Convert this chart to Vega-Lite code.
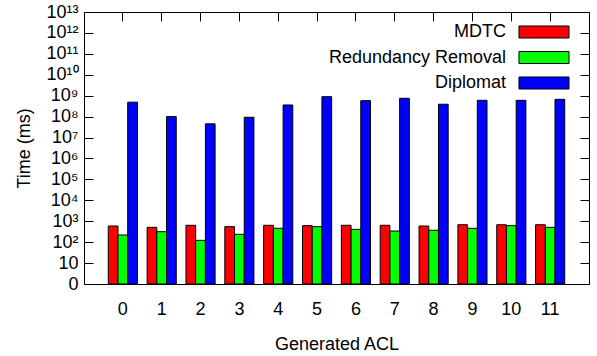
{
  "$schema": "https://vega.github.io/schema/vega-lite/v6.json",
  "width": 505,
  "height": 272,
  "autosize": {"type": "none"},
  "padding": {"left": 84, "top": 12, "right": 8, "bottom": 72},
  "background": "white",
  "config": {
    "font": "Liberation Sans",
    "view": {"stroke": "black", "strokeWidth": 1},
    "axis": {"grid": false, "domain": false, "tickColor": "black", "labelColor": "black", "titleColor": "black", "labelFont": "Liberation Sans", "titleFont": "Liberation Sans", "labelFontSize": 18, "titleFontSize": 18, "titleFontWeight": "normal"},
    "legend": {"labelFont": "Liberation Sans", "labelFontSize": 18, "labelColor": "black", "labelLimit": 400}
  },
  "data": {
    "values": [
      {"acl": "0", "method": "MDTC", "time": 590},
      {"acl": "1", "method": "MDTC", "time": 510},
      {"acl": "2", "method": "MDTC", "time": 640},
      {"acl": "3", "method": "MDTC", "time": 550},
      {"acl": "4", "method": "MDTC", "time": 640},
      {"acl": "5", "method": "MDTC", "time": 615},
      {"acl": "6", "method": "MDTC", "time": 640},
      {"acl": "7", "method": "MDTC", "time": 640},
      {"acl": "8", "method": "MDTC", "time": 590},
      {"acl": "9", "method": "MDTC", "time": 680},
      {"acl": "10", "method": "MDTC", "time": 680},
      {"acl": "11", "method": "MDTC", "time": 680},
      {"acl": "0", "method": "Redundancy Removal", "time": 220},
      {"acl": "1", "method": "Redundancy Removal", "time": 316},
      {"acl": "2", "method": "Redundancy Removal", "time": 122},
      {"acl": "3", "method": "Redundancy Removal", "time": 237},
      {"acl": "4", "method": "Redundancy Removal", "time": 460},
      {"acl": "5", "method": "Redundancy Removal", "time": 550},
      {"acl": "6", "method": "Redundancy Removal", "time": 410},
      {"acl": "7", "method": "Redundancy Removal", "time": 340},
      {"acl": "8", "method": "Redundancy Removal", "time": 370},
      {"acl": "9", "method": "Redundancy Removal", "time": 460},
      {"acl": "10", "method": "Redundancy Removal", "time": 615},
      {"acl": "11", "method": "Redundancy Removal", "time": 510},
      {"acl": "0", "method": "Diplomat", "time": 490000000},
      {"acl": "1", "method": "Diplomat", "time": 100000000},
      {"acl": "2", "method": "Diplomat", "time": 45000000},
      {"acl": "3", "method": "Diplomat", "time": 93000000},
      {"acl": "4", "method": "Diplomat", "time": 360000000},
      {"acl": "5", "method": "Diplomat", "time": 900000000},
      {"acl": "6", "method": "Diplomat", "time": 580000000},
      {"acl": "7", "method": "Diplomat", "time": 750000000},
      {"acl": "8", "method": "Diplomat", "time": 390000000},
      {"acl": "9", "method": "Diplomat", "time": 600000000},
      {"acl": "10", "method": "Diplomat", "time": 600000000},
      {"acl": "11", "method": "Diplomat", "time": 670000000}
    ]
  },
  "layer": [
    {
      "mark": {"type": "bar", "stroke": "black", "strokeWidth": 1},
      "encoding": {
        "x": {
          "field": "acl", "type": "ordinal", "sort": null,
          "scale": {"paddingInner": 0.25, "paddingOuter": 0.625},
          "axis": {"orient": "bottom", "labelAngle": 0, "ticks": false, "labelPadding": 16, "title": "Generated ACL", "titlePadding": 17}
        },
        "xOffset": {
          "field": "method", "type": "nominal",
          "sort": ["MDTC", "Redundancy Removal", "Diplomat"],
          "scale": {"paddingInner": 0, "paddingOuter": 0}
        },
        "y": {
          "field": "time", "type": "quantitative",
          "scale": {"type": "log", "domain": [1, 10000000000000], "nice": false},
          "axis": {
            "orient": "left",
            "values": [1, 10, 100, 1000, 10000, 100000, 1000000, 10000000, 100000000, 1000000000, 10000000000, 100000000000, 1000000000000, 10000000000000],
            "tickSize": -9,
            "labelPadding": 15,
            "labelExpr": "datum.value == 1 ? '0' : datum.value == 10 ? '10' : '10' + (round(log(datum.value)/LN10) >= 10 ? ['⁰','¹','²','³','⁴','⁵','⁶','⁷','⁸','⁹'][floor(round(log(datum.value)/LN10)/10)] : '') + ['⁰','¹','²','³','⁴','⁵','⁶','⁷','⁸','⁹'][round(log(datum.value)/LN10) % 10]",
            "title": "Time (ms)",
            "titlePadding": 12
          }
        },
        "y2": {"datum": 1},
        "color": {
          "field": "method", "type": "nominal",
          "scale": {"domain": ["MDTC", "Redundancy Removal", "Diplomat"], "range": ["#ff0000", "#00ff00", "#0000ff"]},
          "legend": {
            "orient": "none", "legendX": 451, "legendY": 11, "title": null, "padding": 0,
            "symbolType": "M-4.17,-1H4.17V1H-4.17Z", "symbolSize": 144,
            "symbolStrokeColor": "black", "symbolStrokeWidth": 1, "symbolOpacity": 1,
            "labelAlign": "right", "labelOffset": -47, "rowPadding": 7.5
          }
        }
      }
    },
    {
      "mark": {"type": "tick", "opacity": 0},
      "encoding": {
        "x": {
          "field": "acl", "type": "ordinal", "sort": null,
          "axis": {"orient": "top", "labels": false, "title": null, "tickSize": -9}
        },
        "y": {
          "field": "time", "type": "quantitative",
          "axis": {
            "orient": "right", "labels": false, "title": null, "tickSize": -9,
            "values": [1, 10, 100, 1000, 10000, 100000, 1000000, 10000000, 100000000, 1000000000, 10000000000, 100000000000, 1000000000000, 10000000000000]
          }
        }
      }
    }
  ],
  "resolve": {"axis": {"x": "independent", "y": "independent"}}
}
